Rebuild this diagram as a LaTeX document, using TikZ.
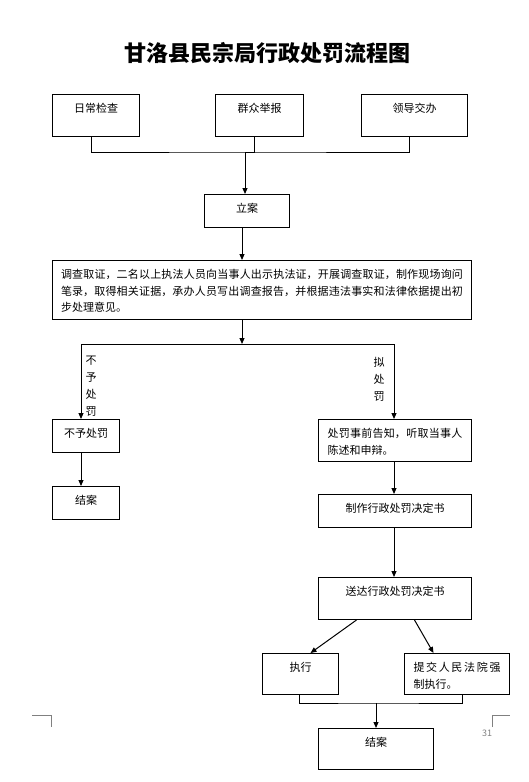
\documentclass[tikz,border=0pt]{standalone}
\usepackage{fontspec}
\usepackage{xcolor}
\usepackage{tikz}
\usetikzlibrary{arrows.meta}
\setmainfont{Noto Sans CJK SC}
\XeTeXlinebreaklocale "zh"
\XeTeXlinebreakskip=0pt plus 2pt
\tolerance=9999
\definecolor{markgray}{RGB}{128,128,128}

\tikzset{
  box/.style={draw, line width=1pt, inner sep=0pt, anchor=north west,
    text height=18pt, font=\fontsize{11}{16.5}\selectfont},
  flow/.style={line width=1pt, -{Triangle[length=6pt,width=5pt]}},
  link/.style={line width=1pt},
}

\begin{document}
\begin{tikzpicture}[x=1pt, y=-1pt]
\useasboundingbox (0,0) rectangle (528,782);

% Title
\node[font=\fontsize{22}{22}\selectfont\bfseries, inner sep=0pt] (title) at (271,53)
  {\makebox[293pt][s]{甘洛县民宗局行政处罚流程图}};

% Sources
\node[box, minimum width=87pt, text depth=24pt] (daily) at (52,94) {日常检查};
\node[box, minimum width=88pt, text depth=24pt] (report) at (215,94) {群众举报};
\node[box, minimum width=106pt, text depth=24pt] (lead) at (361,94) {领导交办};

% Filing and investigation
\node[box, minimum width=85pt, text depth=15pt] (file) at (204,194) {立案};
\node[box, text width=402pt, inner xsep=8.5pt, align=justify, text depth=41pt] (investigate) at (52,260)
  {调查取证，二名以上执法人员向当事人出示执法证，开展调查取证，制作现场询问笔录，取得相关证据，承办人员写出调查报告，并根据违法事实和法律依据提出初步处理意见。};

% Left branch
\node[box, minimum width=67pt, text depth=15pt] (nopen) at (52,419) {不予处罚};
\node[box, minimum width=67pt, text depth=15pt] (closeA) at (52,486) {结案};

% Right branch
\node[box, text width=135pt, inner xsep=9pt, align=justify, text depth=24pt] (notify) at (318,419)
  {处罚事前告知，听取当事人陈述和申辩。};
\node[box, minimum width=153pt, text depth=15pt] (decide) at (318,494) {制作行政处罚决定书};
\node[box, minimum width=153pt, text depth=24pt] (deliver) at (318,577) {送达行政处罚决定书};
\node[box, minimum width=76pt, text depth=23pt] (execute) at (262,653) {执行};
\node[box, text width=87pt, inner xsep=9pt, align=justify, text depth=23pt] (court) at (404,653)
  {提交人民法院强制执行。};
\node[box, minimum width=115pt, text depth=23pt] (closeB) at (318,728) {结案};

% Branch labels
\node[font=\fontsize{11}{17}\selectfont, align=center] (skiplabel) at (91,386) {不\\予\\处\\罚};
\node[font=\fontsize{11}{17}\selectfont, align=center] (punishlabel) at (379,379) {拟\\处\\罚};

% Junctions
\coordinate (j1) at (245,152);
\coordinate (j2) at (242,344);
\coordinate (j3) at (81,344);
\coordinate (j4) at (394,344);
\coordinate (j5) at (376,703);

% Connectors
\draw[link] ([xshift=-4.5pt]daily.south) |- (j1) -| ([xshift=-5pt]lead.south);
\draw[link] ([xshift=-5pt]report.south) |- (j1);
\draw[flow] (j1) -- (j1 |- file.north);
\draw[flow] (file.south -| j2) -- (investigate.north -| j2);
\draw[flow] (investigate.south -| j2) -- (j2);
\draw[link] (j3) -- (j4);
\draw[flow] (j3) -- (j3 |- nopen.north);
\draw[flow] (j4) -- (j4 |- notify.north);
\draw[flow] (nopen.south -| j3) -- (closeA.north -| j3);
\draw[flow] (notify.south -| j4) -- (decide.north -| j4);
\draw[flow] (decide.south -| j4) -- (deliver.north -| j4);
\draw[flow] ([xshift=-38.5pt]deliver.south) -- ([xshift=10pt]execute.north);
\draw[flow] ([xshift=19.5pt]deliver.south) -- ([xshift=-23.5pt]court.north);
\draw[link] ([xshift=-1pt]execute.south) |- (j5) -| ([xshift=5.5pt]court.south);
\draw[flow] (j5) -- (j5 |- closeB.north);

% Page corner marks
\draw[markgray, line width=0.6pt] (32,715) -- (51,715) -- (51,727);
\draw[markgray, line width=0.6pt] (492,727) -- (492,715) -- (510,715);
\node[markgray, font=\fontsize{9}{9}\selectfont] (pagenum) at (487,733) {31};
\end{tikzpicture}
\end{document}
